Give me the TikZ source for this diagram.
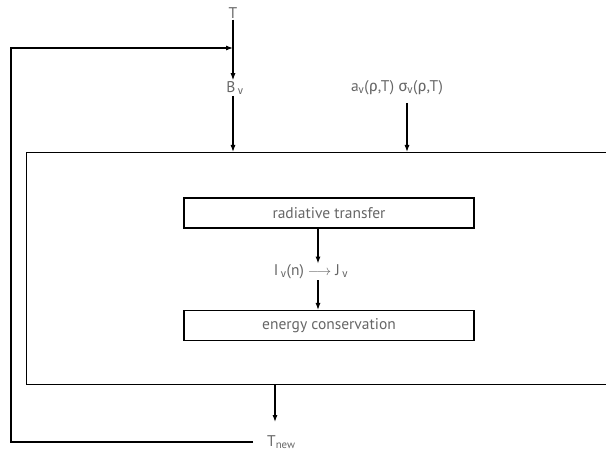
\documentclass[tikz,border=0pt]{standalone}
\usepackage{fontspec}
\setmainfont{PT Sans}
\newfontfamily\greekfont{Fira Sans}
\usetikzlibrary{arrows.meta}
\definecolor{labelgray}{gray}{0.4}
\newcommand{\nusub}{\textsubscript{\greekfont ν}}
\tikzset{
  lbl/.style={text=labelgray, font=\fontsize{15.5}{18}\selectfont, inner sep=1pt},
  stagebox/.style={draw, line width=1.1pt, minimum width=290pt, minimum height=30pt,
    text=labelgray, font=\fontsize{15.5}{18}\selectfont},
  flow/.style={line width=1.1pt, -{Latex[length=7pt,width=5pt]}}
}
\begin{document}
\begin{tikzpicture}[x=1pt, y=-1pt]
	\useasboundingbox (0,0) rectangle (606,452);

	% --- inputs ---
	\node[lbl] (T) at (233,13) {T};
	\node[lbl] (Bnu) at (235,88) {B\,\nusub};
	\node[lbl] (coef) at (397,88) {a\nusub({\greekfont ρ},T) {\greekfont σ}\nusub({\greekfont ρ},T)};
	\coordinate (sig) at (407,103);

	% --- solver ---
	\node[draw, line width=1.1pt, minimum width=640pt, minimum height=232pt,
	  anchor=north west, inner sep=0pt] (solver) at (26,152) {};
	\node[stagebox] (rt) at (329,213) {radiative transfer};
	\node[lbl] (IJ) at (311,272) {I\,\nusub(n) $\longrightarrow$ J\,\nusub};
	\node[stagebox] (ec) at (329,325.5) {energy conservation};
	\coordinate (mid) at (318,0);

	% --- output ---
	\node[lbl, anchor=west] (Tnew) at (266,442) {T\textsubscript{new}};
	\coordinate (out) at (275,0);
	\coordinate (ret) at (11,48);

	% --- arrows ---
	\draw[flow] (T.south) -- (T |- Bnu.north);
	\draw[flow] (T |- Bnu.south) -- (T |- solver.north);
	\draw[flow] (sig) -- (sig |- solver.north);
	\draw[flow] (rt.south -| mid) -- (IJ.north -| mid);
	\draw[flow] (IJ.south -| mid) -- (ec.north -| mid);
	\draw[flow] (solver.south -| out) -- (out |- 0,422);
	\draw[flow] ([xshift=-13pt]Tnew.west) -| (ret) -- (ret -| T);
\end{tikzpicture}
\end{document}
